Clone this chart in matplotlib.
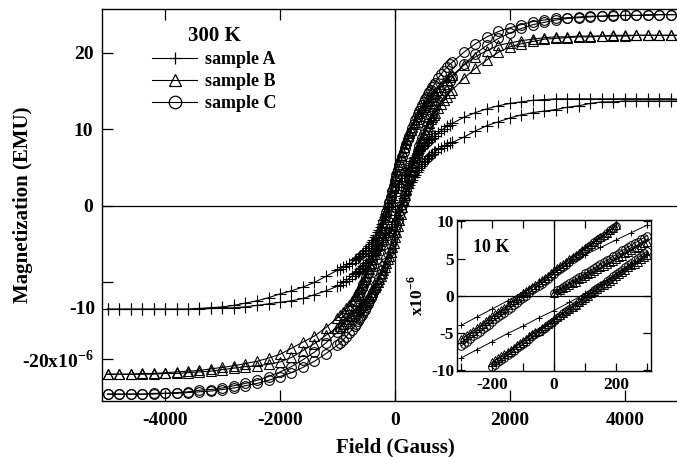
import matplotlib
matplotlib.use("Agg")
import matplotlib.pyplot as plt
from matplotlib.lines import Line2D

plt.rcParams['font.family'] = ['Liberation Serif', 'DejaVu Serif']
plt.rcParams['font.weight'] = 'bold'
plt.rcParams['axes.unicode_minus'] = False
plt.rcParams['mathtext.fontset'] = 'custom'
plt.rcParams['mathtext.rm'] = 'Liberation Serif'
plt.rcParams['mathtext.bf'] = 'Liberation Serif:bold'

# ---------------- main plot data (300 K) ----------------
field = [-5000, -4800, -4600, -4400, -4200, -4000, -3800, -3600, -3400, -3200, -3000,
         -2800, -2600, -2400, -2200, -2000, -1800, -1600, -1400, -1200, -1000,
         -950, -900, -850, -800, -750,
         -700, -675, -650, -625, -600, -575, -550, -525, -500, -475, -450, -425, -400,
         -375, -350, -325, -300, -275, -250, -225, -200, -175, -150, -125, -100, -75,
         -50, -25, 0, 25, 50, 75, 100, 125, 150, 175, 200, 225, 250, 275, 300, 325,
         350, 375, 400, 425, 450, 475, 500, 525, 550, 575, 600, 625, 650, 675, 700,
         750, 800, 850, 900, 950,
         1000, 1200, 1400, 1600, 1800, 2000, 2200, 2400, 2600, 2800, 3000,
         3200, 3400, 3600, 3800, 4000, 4200, 4400, 4600, 4800, 5000]

# sample A (x1e-6 EMU): descending and ascending branches
A_down = [-13.5, -13.5, -13.5, -13.5, -13.5, -13.5, -13.5, -13.5, -13.4, -13.3, -13.2,
          -13.0, -12.7, -12.4, -12.0, -11.5, -11.1, -10.6, -10.0, -9.2, -8.4,
          -8.2, -8.0, -7.8, -7.6, -7.4,
          -7.1, -7.0, -6.8, -6.7, -6.5, -6.3, -6.1, -5.9, -5.7, -5.5, -5.2, -5.0, -4.7,
          -4.4, -4.1, -3.8, -3.4, -3.1, -2.7, -2.3, -1.9, -1.5, -1.0, -0.6, -0.1, 0.4,
          0.8, 1.3, 1.7, 2.1, 2.5, 2.9, 3.3, 3.7, 4.0, 4.4, 4.7, 5.0, 5.3, 5.6, 5.9, 6.2,
          6.4, 6.7, 6.9, 7.2, 7.4, 7.6, 7.8, 8.0, 8.2, 8.4, 8.6, 8.8, 8.9, 9.1, 9.2,
          9.5, 9.8, 10.1, 10.4, 10.6,
          10.8, 11.6, 12.2, 12.7, 13.1, 13.4, 13.6, 13.8, 13.9, 14.0, 14.0,
          14.0, 14.0, 14.0, 14.0, 14.0, 14.0, 14.0, 14.0, 14.0, 13.9]
A_up = [-13.5, -13.5, -13.5, -13.5, -13.5, -13.5, -13.5, -13.5, -13.5, -13.4, -13.4,
        -13.3, -13.2, -13.0, -12.8, -12.6, -12.4, -12.1, -11.6, -11.1, -10.5,
        -10.3, -10.0, -9.8, -9.5, -9.2,
        -8.9, -8.8, -8.6, -8.5, -8.3, -8.1, -7.9, -7.7, -7.5, -7.3, -7.1, -6.9, -6.6,
        -6.4, -6.1, -5.9, -5.6, -5.3, -5.0, -4.7, -4.4, -4.1, -3.8, -3.5, -3.1, -2.8,
        -2.4, -2.0, -1.6, -1.2, -0.8, -0.4, 0.1, 0.5, 1.0, 1.4, 1.9, 2.3, 2.7, 3.1, 3.4, 3.8,
        4.1, 4.4, 4.7, 5.0, 5.2, 5.5, 5.7, 5.9, 6.1, 6.3, 6.5, 6.7, 6.8, 7.0, 7.1,
        7.4, 7.6, 7.8, 8.0, 8.2,
        8.3, 9.0, 9.8, 10.5, 11.0, 11.5, 11.9, 12.2, 12.4, 12.6, 12.9,
        13.1, 13.4, 13.6, 13.6, 13.7, 13.7, 13.7, 13.7, 13.7, 13.7]

# sample B
B_down = [-22.0, -22.0, -22.0, -21.9, -21.9, -21.8, -21.7, -21.6, -21.5, -21.3, -21.1,
          -20.9, -20.6, -20.3, -19.9, -19.4, -18.6, -17.8, -17.0, -15.9, -14.6,
          -14.3, -13.9, -13.4, -12.9, -12.4,
          -11.8, -11.5, -11.2, -10.9, -10.6, -10.3, -9.9, -9.5, -9.1, -8.7, -8.3, -7.9, -7.4,
          -6.9, -6.3, -5.7, -5.1, -4.5, -3.8, -3.0, -2.2, -1.4, -0.6, 0.2, 1.0, 1.8,
          2.6, 3.4, 4.1, 4.8, 5.5, 6.1, 6.7, 7.2, 7.7, 8.2, 8.6, 9.1, 9.5, 9.9, 10.3, 10.7,
          11.0, 11.4, 11.7, 12.1, 12.4, 12.7, 12.9, 13.2, 13.4, 13.7, 13.9, 14.2, 14.4, 14.6, 14.8,
          15.2, 15.6, 16.0, 16.4, 16.8,
          17.1, 18.4, 19.5, 20.3, 21.0, 21.3, 21.6, 21.8, 22.0, 22.1, 22.1,
          22.2, 22.2, 22.2, 22.3, 22.3, 22.3, 22.3, 22.3, 22.3, 22.3]
B_up = [-22.0, -22.0, -22.0, -22.0, -22.0, -21.9, -21.9, -21.8, -21.7, -21.6, -21.4,
        -21.2, -21.0, -20.9, -20.7, -20.4, -19.8, -18.9, -18.0, -16.9, -15.9,
        -15.7, -15.4, -15.1, -14.8, -14.4,
        -14.0, -13.8, -13.6, -13.4, -13.2, -13.0, -12.8, -12.6, -12.3, -12.1, -11.8, -11.5, -11.2,
        -10.9, -10.6, -10.3, -9.9, -9.6, -9.2, -8.8, -8.4, -8.0, -7.5, -7.0, -6.5, -6.0,
        -5.4, -4.8, -4.1, -3.4, -2.6, -1.8, -1.0, -0.2, 0.6, 1.4, 2.2, 3.0, 3.8, 4.5, 5.2, 5.8,
        6.4, 7.0, 7.5, 8.0, 8.5, 8.9, 9.3, 9.7, 10.1, 10.5, 10.9, 11.3, 11.6, 11.9, 12.2,
        12.8, 13.3, 13.8, 14.3, 14.8,
        15.2, 16.7, 18.0, 19.1, 20.1, 20.8, 21.2, 21.5, 21.8, 21.9, 22.0,
        22.1, 22.1, 22.2, 22.2, 22.2, 22.3, 22.3, 22.3, 22.3, 22.3]

# sample C
C_down = [-24.6, -24.6, -24.6, -24.6, -24.5, -24.5, -24.4, -24.3, -24.1, -24.0, -23.8,
          -23.5, -23.2, -22.8, -22.3, -21.7, -21.0, -20.1, -19.1, -17.9, -16.5,
          -16.0, -15.4, -14.8, -14.2, -13.5,
          -12.8, -12.4, -12.0, -11.6, -11.2, -10.7, -10.2, -9.8, -9.3, -8.8, -8.2, -7.7, -7.1,
          -6.5, -5.9, -5.3, -4.7, -4.0, -3.4, -2.7, -2.1, -1.4, -0.8, -0.1, 0.5, 1.2,
          1.9, 2.5, 3.2, 3.9, 4.5, 5.2, 5.8, 6.4, 7.0, 7.6, 8.1, 8.7, 9.2, 9.7, 10.2, 10.7,
          11.2, 11.6, 12.0, 12.4, 12.8, 13.2, 13.6, 14.0, 14.3, 14.6, 14.9, 15.2, 15.5, 15.8, 16.1,
          16.7, 17.2, 17.7, 18.1, 18.5,
          18.8, 20.1, 21.2, 22.1, 22.8, 23.3, 23.7, 24.1, 24.3, 24.5, 24.6,
          24.7, 24.8, 24.8, 24.9, 24.9, 24.9, 25.0, 25.0, 25.0, 25.0]
C_up = [-24.6, -24.6, -24.6, -24.6, -24.6, -24.5, -24.5, -24.4, -24.3, -24.2, -24.0,
        -23.8, -23.5, -23.2, -22.8, -22.3, -21.8, -21.1, -20.3, -19.3, -18.2,
        -17.9, -17.5, -17.1, -16.6, -16.2,
        -15.7, -15.4, -15.1, -14.8, -14.5, -14.2, -13.9, -13.6, -13.2, -12.8, -12.4, -12.0, -11.6,
        -11.2, -10.8, -10.4, -9.9, -9.4, -8.9, -8.4, -7.9, -7.4, -6.8, -6.2, -5.6, -5.0,
        -4.4, -3.8, -3.2, -2.5, -1.9, -1.2, -0.5, 0.1, 0.8, 1.5, 2.2, 2.8, 3.5, 4.1, 4.8, 5.4,
        6.0, 6.6, 7.2, 7.8, 8.4, 8.9, 9.4, 9.9, 10.4, 10.8, 11.3, 11.7, 12.2, 12.6, 13.0,
        13.7, 14.4, 15.1, 15.7, 16.3,
        16.8, 18.5, 19.9, 21.0, 21.9, 22.6, 23.2, 23.7, 24.0, 24.3, 24.5,
        24.6, 24.7, 24.8, 24.8, 24.9, 24.9, 24.9, 25.0, 25.0, 25.0]

# ---------------- inset data (10 K) ----------------
in_x_upper = [-300, -290, -280, -270, -260, -250, -240, -230, -220, -210, -200, -190, -180,
              -170, -160, -150, -140, -130, -120, -110, -100, -90, -80, -70, -60, -50,
              -40, -30, -20, -10, 0, 10, 20, 30, 40, 50, 60, 70, 80, 90, 100, 110, 120,
              130, 140, 150, 160, 170, 180, 190, 200]
in_B_upper = [-5.9, -5.6, -5.3, -5.0, -4.7, -4.4, -4.1, -3.8, -3.4, -3.1, -2.8, -2.5, -2.2,
              -1.9, -1.6, -1.3, -0.9, -0.6, -0.3, 0.0, 0.3, 0.6, 0.9, 1.2, 1.5, 1.8,
              2.1, 2.4, 2.7, 3.0, 3.4, 3.7, 4.0, 4.3, 4.6, 4.9, 5.2, 5.5, 5.8, 6.1, 6.4, 6.7, 7.0,
              7.3, 7.6, 7.9, 8.2, 8.5, 8.8, 9.1, 9.5]
in_C_upper = [-6.8, -6.5, -6.2, -5.8, -5.5, -5.2, -4.9, -4.5, -4.2, -3.9, -3.6, -3.2, -2.9,
              -2.6, -2.3, -1.9, -1.6, -1.3, -1.0, -0.6, -0.3, 0.0, 0.3, 0.7, 1.0, 1.3,
              1.6, 2.0, 2.3, 2.6, 2.9, 3.3, 3.6, 3.9, 4.2, 4.6, 4.9, 5.2, 5.5, 5.9, 6.2, 6.5, 6.8,
              7.2, 7.5, 7.8, 8.1, 8.5, 8.8, 9.1, 9.4]

in_x_virgin = [0, 10, 20, 30, 40, 50, 60, 70, 80, 90, 100, 110, 120, 130, 140, 150, 160,
               170, 180, 190, 200, 210, 220, 230, 240, 250, 260, 270, 280, 290, 300]
in_B_virgin = [0.3, 0.5, 0.8, 1.0, 1.2, 1.5, 1.7, 1.9, 2.2, 2.4, 2.6, 2.9, 3.1, 3.3, 3.6, 3.8,
               4.0, 4.3, 4.5, 4.7, 5.0, 5.2, 5.4, 5.7, 5.9, 6.1, 6.4, 6.6, 6.8, 7.1, 7.3]
in_C_virgin = [0.4, 0.7, 0.9, 1.2, 1.4, 1.7, 2.0, 2.2, 2.5, 2.7, 3.0, 3.2, 3.5, 3.7, 4.0, 4.3,
               4.5, 4.8, 5.0, 5.3, 5.5, 5.8, 6.1, 6.3, 6.6, 6.8, 7.1, 7.3, 7.6, 7.8, 8.1]

in_x_lower = [-200, -190, -180, -170, -160, -150, -140, -130, -120, -110, -100, -90, -80,
              -70, -60, -50, -40, -30, -20, -10, 0, 10, 20, 30, 40, 50, 60, 70, 80, 90,
              100, 110, 120, 130, 140, 150, 160, 170, 180, 190, 200, 210, 220, 230, 240,
              250, 260, 270, 280, 290, 300]
in_B_lower = [-9.0, -8.7, -8.4, -8.1, -7.8, -7.6, -7.3, -7.0, -6.7, -6.4, -6.1, -5.8, -5.5,
              -5.2, -4.9, -4.7, -4.4, -4.1, -3.8, -3.5, -3.2, -2.9, -2.6, -2.3, -2.0, -1.8,
              -1.5, -1.2, -0.9, -0.6, -0.3, 0.0, 0.3, 0.6, 0.9, 1.2, 1.4, 1.7, 2.0, 2.3, 2.6,
              2.9, 3.2, 3.5, 3.8, 4.1, 4.3, 4.6, 4.9, 5.2, 5.5]
in_C_lower = [-9.6, -9.3, -9.0, -8.7, -8.4, -8.0, -7.7, -7.4, -7.1, -6.8, -6.5, -6.2, -5.9,
              -5.5, -5.2, -4.9, -4.6, -4.3, -4.0, -3.7, -3.4, -3.0, -2.7, -2.4, -2.1, -1.8,
              -1.5, -1.2, -0.9, -0.5, -0.2, 0.1, 0.4, 0.7, 1.0, 1.3, 1.6, 2.0, 2.3, 2.6, 2.9,
              3.2, 3.5, 3.8, 4.1, 4.4, 4.8, 5.1, 5.4, 5.7, 6.0]

in_x_A = [-300, -250, -200, -150, -100, -50, 0, 50, 100, 150, 200, 250, 300]
in_A_upper = [-4.0, -2.9, -1.8, -0.7, 0.5, 1.8, 3.2, 4.4, 5.5, 6.5, 7.5, 8.5, 9.5]
in_A_lower = [-8.4, -7.3, -6.2, -5.1, -4.1, -3.0, -2.0, -0.9, 0.3, 1.6, 2.9, 4.2, 5.5]

labels = ['sample A', 'sample B', 'sample C']
markers = ['+', '^', 'o']

for arr in (A_down, A_up, B_down, B_up, C_down, C_up):
    assert len(arr) == len(field), (len(arr), len(field))

# ---------------- figure ----------------
W, H = 677, 457
fig = plt.figure(figsize=(W / 100, H / 100), dpi=100)

ax = fig.add_axes([101.75 / W, (H - 401) / H, 586.5 / W, 391.7 / H])
ax.set_xlim(-5100, 5100)
ax.set_ylim(-25.5, 25.7)

lw = 0.8
mk = dict(color='black', lw=lw, mfc='none', mec='black', mew=0.8)
series = [(A_down, A_up), (B_down, B_up), (C_down, C_up)]
for (dn, up), m in zip(series, markers):
    ms = 8 if m == '+' else 7
    ax.plot(field, dn, marker=m, ms=ms, **mk)
    ax.plot(field, up, marker=m, ms=ms, **mk)

ax.axhline(0, color='black', lw=0.9)
ax.axvline(0, color='black', lw=0.9)

ax.set_xticks([-4000, -2000, 0, 2000, 4000])
ax.set_yticks([-20, -10, 0, 10, 20])
ax.set_yticklabels([r'-20x10$^{\mathbf{-6}}$', '', '0', '10', '20'])
ax.tick_params(direction='in', length=8, width=0.9, top=True, right=True,
               labelsize=14, pad=6)
ax.tick_params(axis='x', pad=8)
for lab in ax.get_xticklabels() + ax.get_yticklabels():
    lab.set_fontweight('bold')
# the "-10" label sits below its tick in the original figure
ax.text(-0.0115, -13.6, '-10', transform=ax.get_yaxis_transform(),
        ha='right', va='center', fontsize=14, fontweight='bold')

for s in ax.spines.values():
    s.set_linewidth(1.0)

ax.set_xlabel('Field (Gauss)', fontsize=15, fontweight='bold', labelpad=6)
ax.set_ylabel('Magnetization (EMU)', fontsize=15, fontweight='bold')
ax.yaxis.set_label_coords(-0.117, 0.5)

handles = [Line2D([], [], color='black', lw=lw, marker=m, ms=9,
                  mfc='none', mec='black', mew=0.9) for m in markers]
leg = ax.legend(handles, labels, loc='upper left', bbox_to_anchor=(0.0735, 0.975),
                frameon=False, title='300 K', handlelength=2.5, handletextpad=0.45,
                labelspacing=0.28, borderaxespad=0.0,
                prop=dict(size=13, weight='bold'),
                title_fontproperties=dict(size=15, weight='bold'))

# ---------------- inset ----------------
axi = fig.add_axes([457 / W, (H - 371) / H, 194 / W, 151 / H])
axi.set_xlim(-313, 313)
axi.set_ylim(-10.15, 10.2)

mki = dict(color='black', lw=0.7, mfc='none', mec='black', mew=0.7)
axi.plot(in_x_upper, in_B_upper, marker='^', ms=5.5, **mki)
axi.plot(in_x_upper, in_C_upper, marker='o', ms=5.5, **mki)
axi.plot(in_x_virgin, in_B_virgin, marker='^', ms=5.5, **mki)
axi.plot(in_x_virgin, in_C_virgin, marker='o', ms=5.5, **mki)
axi.plot(in_x_lower, in_B_lower, marker='^', ms=5.5, **mki)
axi.plot(in_x_lower, in_C_lower, marker='o', ms=5.5, **mki)
axi.plot(in_x_A, in_A_upper, marker='+', ms=4, **mki)
axi.plot(in_x_A, in_A_lower, marker='+', ms=4, **mki)

axi.axhline(0, color='black', lw=0.9)
axi.axvline(0, color='black', lw=0.9)
axi.set_xticks([-200, 0, 200])
axi.set_xticks([-300, -100, 100, 300], minor=True)
axi.set_yticks([-10, -5, 0, 5, 10])
axi.tick_params(which='both', direction='in', top=True, right=True, width=0.9,
                labelsize=12.5, pad=2, length=6)
axi.tick_params(axis='x', pad=4)
for lab in axi.get_xticklabels() + axi.get_yticklabels():
    lab.set_fontweight('bold')
for s in axi.spines.values():
    s.set_linewidth(1.0)
axi.set_ylabel(r'x10$^{\mathbf{-6}}$', fontsize=12.5, fontweight='bold', labelpad=3)
axi.text(0.175, 0.815, '10 K', transform=axi.transAxes, ha='center', va='center',
         fontsize=13, fontweight='bold')

fig.savefig('out.png', dpi=100)
